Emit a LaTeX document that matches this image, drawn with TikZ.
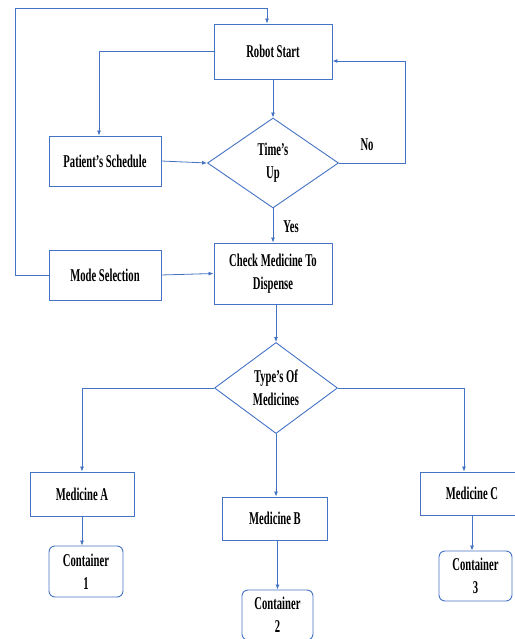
\documentclass[tikz,border=0pt]{standalone}
\usepackage{fontspec}
\newfontfamily\flowfont{Liberation Serif}[FakeStretch=0.59]
\usetikzlibrary{shapes.geometric,arrows.meta,calc}
\definecolor{flowblue}{RGB}{68,114,196}

\begin{document}
\begin{tikzpicture}[
    x=1pt, y=-1pt,
    box/.style={draw=flowblue, line width=0.9pt, align=center, inner sep=0pt,
        font=\flowfont\bfseries\fontsize{18pt}{23pt}\selectfont},
    container/.style={box, rounded corners=6pt},
    decision/.style={box, diamond},
    lbl/.style={inner sep=0pt, font=\flowfont\bfseries\fontsize{18pt}{23pt}\selectfont},
    flow/.style={draw=flowblue, line width=0.8pt, -{Latex[length=5pt,width=4pt]}}
]
    % page size of the reference
    \useasboundingbox (0,0) rectangle (514,639);

    % Upper part of the chart
    \node[box, minimum width=118pt, minimum height=55pt] (start) at (273,51.5) {Robot Start};
    \node[box, minimum width=112pt, minimum height=50pt] (sched) at (105,161) {Patient’s Schedule};
    \node[decision, minimum width=131pt, minimum height=90pt] (timeup) at (273,163) {Time’s\\Up};
    \node[box, minimum width=118pt, minimum height=61pt] (check) at (273,273.5) {Check Medicine To\\Dispense};
    \node[box, minimum width=112pt, minimum height=50pt] (mode) at (105,275) {Mode Selection};

    % Lower part of the chart
    \node[decision, minimum width=123pt, minimum height=91pt] (types) at (276,388) {Type’s Of\\Medicines};
    \node[box, minimum width=104pt, minimum height=44pt] (medA) at (82,494) {Medicine A};
    \node[box, minimum width=105pt, minimum height=43pt] (medB) at (275,518.5) {Medicine B};
    \node[box, minimum width=104pt, minimum height=43pt] (medC) at (472,493.5) {Medicine C};
    \node[container, minimum width=74pt, minimum height=51pt] (cont1) at (86,571.5) {Container\\1};
    \node[container, minimum width=71pt, minimum height=50pt] (cont2) at (277.5,615) {Container\\2};
    \node[container, minimum width=73pt, minimum height=50pt] (cont3) at (475.5,576) {Container\\3};

    % corners of the loops
    \coordinate (topleft) at (15,8);
    \coordinate (nocorner) at (405,163);

    % Connectors
    \draw[flow] (mode.west) -| (topleft) -| ([xshift=-6pt]start.north);
    \draw[flow] (start.west) -| ([xshift=-6pt]sched.north);
    \draw[flow] (start.south) -- (timeup.north);
    \draw[flow] (sched.east) -- (timeup.west);
    \draw[flow] (timeup.east) -- (nocorner) |- ([yshift=-9.5pt]start.east);
    \draw[flow] (timeup.south) -- (check.north);
    \draw[flow] (mode.east) -- (check.west);
    \draw[flow] (types.north |- check.south) -- (types.north);
    \draw[flow] (types.west) -| (medA.north);
    \draw[flow] (types.east) -| ([xshift=-8pt]medC.north);
    \draw[flow] (types.south) -- (types.south |- medB.north);
    \draw[flow] (medA.south) -- (medA.south |- cont1.north);
    \draw[flow] (cont2.north |- medB.south) -- (cont2.north);
    \draw[flow] (medC.south) -- (medC.south |- cont3.north);

    % Branch labels
    \node[lbl] (nolbl) at (367,145) {No};
    \node[lbl] (yeslbl) at (291,227) {Yes};
\end{tikzpicture}
\end{document}
